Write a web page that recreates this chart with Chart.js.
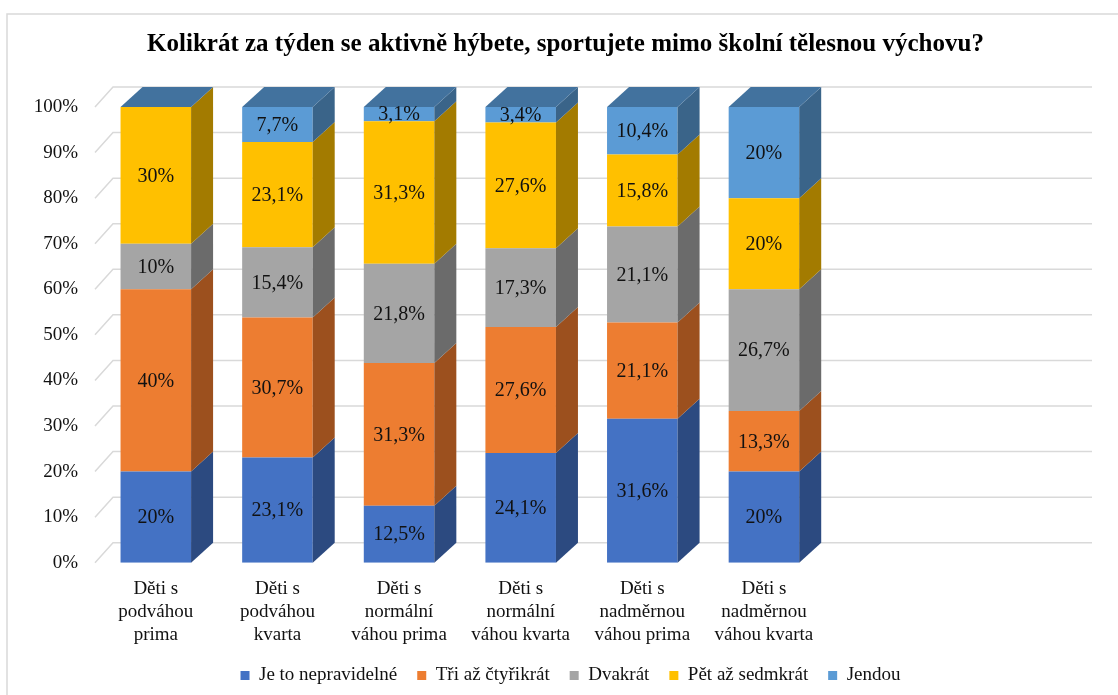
<!DOCTYPE html>
<html>
<head>
<meta charset="utf-8">
<script src="https://cdn.jsdelivr.net/npm/chart.js@4/dist/chart.umd.min.js"></script>
<style>
  body { margin: 0; background: #fff; }
  #wrap { width: 1118px; height: 695px; position: relative; }
</style>
</head>
<body>
<div id="wrap"><canvas id="graf"></canvas></div>
<script>
// data z obrázku
const kategorie = [
  ['Děti s', 'podváhou', 'prima'],
  ['Děti s', 'podváhou', 'kvarta'],
  ['Děti s', 'normální', 'váhou prima'],
  ['Děti s', 'normální', 'váhou kvarta'],
  ['Děti s', 'nadměrnou', 'váhou prima'],
  ['Děti s', 'nadměrnou', 'váhou kvarta']
];
const nepravidelne = [20, 23.1, 12.5, 24.1, 31.6, 20];
const triCtyri = [40, 30.7, 31.3, 27.6, 21.1, 13.3];
const dvakrat = [10, 15.4, 21.8, 17.3, 21.1, 26.7];
const petSedm = [30, 23.1, 31.3, 27.6, 15.8, 20];
const jendou = [0, 7.7, 3.1, 3.4, 10.4, 20];
const nazvy = ['Je to nepravidelné', 'Tři až čtyřikrát', 'Dvakrát', 'Pět až sedmkrát', 'Jendou'];
const yTicks = [0, 10, 20, 30, 40, 50, 60, 70, 80, 90, 100];

const barvy = ['#4472C4', '#ED7D31', '#A5A5A5', '#FFC000', '#5B9BD5'];
const barvyBok = ['#2C4A80', '#9C501E', '#6B6B6B', '#A37B00', '#3A6489'];
const barvaVrch = '#42729E';

const DX = 22, DY = -20;   // hloubka 3D
const FONT = 'Liberation Serif, Times New Roman, serif';

// posun titulku a legendy na střed jako v originále
function posun(box, stred) {
  if (!box) return;
  const d = stred - (box.left + box.right) / 2;
  box.left += d;
  box.right += d;
}

// mřížka na zadní stěně + boky a vršky sloupců
const efekt3d = {
  id: 'efekt3d',
  afterLayout(chart) {
    posun(chart.titleBlock, 565.5);
    posun(chart.legend, 570.5);
  },
  beforeDraw(chart) {
    const c = chart.ctx;
    c.save();
    c.strokeStyle = '#D9D9D9';
    c.lineWidth = 1.5;
    c.strokeRect(7, 14, 1300, 900);
    c.restore();
  },
  beforeDatasetsDraw(chart) {
    const c = chart.ctx, y = chart.scales.y, a = chart.chartArea;
    c.save();
    c.strokeStyle = '#D9D9D9';
    c.lineWidth = 1.5;
    yTicks.forEach(v => {
      const py = y.getPixelForValue(v);
      c.beginPath();
      c.moveTo(a.left, py);
      c.lineTo(a.left + 18, py + DY);
      c.lineTo(a.right + 24, py + DY);
      c.stroke();
    });
    c.restore();
  },
  afterDatasetsDraw(chart) {
    const c = chart.ctx;
    c.save();
    chart.data.datasets.forEach((ds, d) => {
      chart.getDatasetMeta(d).data.forEach(el => {
        const p = el.getProps(['x', 'y', 'base', 'width'], true);
        const r = p.x + p.width / 2;
        c.fillStyle = barvyBok[d];
        c.beginPath();
        c.moveTo(r, p.y);
        c.lineTo(r + DX, p.y + DY);
        c.lineTo(r + DX, p.base + DY);
        c.lineTo(r, p.base);
        c.closePath();
        c.fill();
      });
    });
    // vršek sloupce
    const last = chart.data.datasets.length - 1;
    chart.getDatasetMeta(last).data.forEach(el => {
      const p = el.getProps(['x', 'y', 'base', 'width'], true);
      const l = p.x - p.width / 2, r = p.x + p.width / 2;
      c.fillStyle = barvaVrch;
      c.beginPath();
      c.moveTo(l, p.y);
      c.lineTo(l + DX, p.y + DY);
      c.lineTo(r + DX, p.y + DY);
      c.lineTo(r, p.y);
      c.closePath();
      c.fill();
    });
    // popisky hodnot
    c.fillStyle = '#111';
    c.font = '20px ' + FONT;
    c.textAlign = 'center';
    c.textBaseline = 'middle';
    chart.data.datasets.forEach((ds, d) => {
      chart.getDatasetMeta(d).data.forEach((el, i) => {
        const v = ds.data[i];
        if (!v) return;
        const p = el.getProps(['x', 'y', 'base'], true);
        c.fillText(String(v).replace('.', ',') + '%', p.x, (p.y + p.base) / 2 + 1);
      });
    });
    c.restore();
  }
};

const rady = [nepravidelne, triCtyri, dvakrat, petSedm, jendou];

new Chart(document.getElementById('graf'), {
  type: 'bar',
  data: {
    labels: kategorie.concat(['', '']),
    datasets: rady.map((r, i) => ({
      label: nazvy[i],
      data: r,
      backgroundColor: barvy[i],
      borderWidth: 0,
      categoryPercentage: 1,
      barPercentage: 0.58
    }))
  },
  options: {
    responsive: true,
    maintainAspectRatio: false,
    animation: false,
    layout: { padding: { left: 0, right: 50, top: 0, bottom: 0 } },
    plugins: {
      title: {
        display: true,
        text: 'Kolikrát za týden se aktivně hýbete, sportujete mimo školní tělesnou výchovu?',
        color: '#000',
        font: { family: FONT, size: 25, weight: 'bold', lineHeight: 1.2 },
        padding: { top: 30, bottom: 47 }
      },
      legend: {
        position: 'bottom',
        labels: {
          color: '#111',
          font: { family: FONT, size: 19, lineHeight: 1.2 },
          boxWidth: 9,
          boxHeight: 9,
          padding: 20
        }
      },
      tooltip: { enabled: false }
    },
    scales: {
      x: {
        stacked: true,
        grid: { display: false, drawTicks: false },
        border: { display: false },
        ticks: {
          color: '#111',
          font: { family: FONT, size: 19, lineHeight: 1.2 },
          padding: 15,
          maxRotation: 0,
          autoSkip: false
        },
        afterFit(s) { s.height = 83.3; }
      },
      y: {
        stacked: true,
        min: 0,
        max: 100,
        grid: { display: false, drawTicks: false },
        border: { display: false },
        ticks: {
          stepSize: 10,
          color: '#111',
          font: { family: FONT, size: 19 },
          padding: 17,
          callback: v => v + '%'
        },
        afterFit(s) { s.width = 95; }
      }
    }
  },
  plugins: [efekt3d]
});
</script>
</body>
</html>
